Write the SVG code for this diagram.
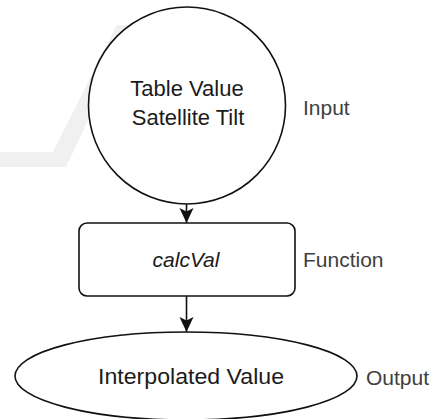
<svg xmlns="http://www.w3.org/2000/svg" width="435" height="419" viewBox="0 0 435 419">
  <style>
    .shape { fill: #ffffff; stroke: #111111; stroke-width: 1.6; }
    .node-text { font-family: "Liberation Sans", Arial, sans-serif; font-size: 22px; fill: #1b1b1b; text-anchor: middle; }
    .label { font-family: "Liberation Sans", Arial, sans-serif; font-size: 21px; fill: #404040; }
    .conn { stroke: #111111; stroke-width: 1.6; fill: none; marker-end: url(#ah); }
    .wm { fill: #f0f0f0; }
  </style>
  <defs>
    <marker id="ah" markerUnits="userSpaceOnUse" markerWidth="15" markerHeight="16" refX="15" refY="7" orient="auto">
      <path d="M0,0 L15,7 L0,14 L3.5,7 Z" fill="#111111"/>
    </marker>
  </defs>
  <rect x="0" y="0" width="435" height="419" fill="#ffffff"/>
  <g id="watermark">
    <path class="wm" d="M117,25 L133,25 L66,167 L0,167 L0,152 L53,152 Z"/>
  </g>
  <g id="connectors">
    <line class="conn" x1="186.5" y1="204" x2="186.5" y2="223"/>
    <line class="conn" x1="186.5" y1="296" x2="186.5" y2="332"/>
  </g>
  <g id="input">
    <circle class="shape" cx="187" cy="105.5" r="98.5"/>
    <text class="node-text" x="187" y="96">Table Value</text>
    <text class="node-text" x="188" y="125">Satellite Tilt</text>
    <text class="label" x="303" y="115">Input</text>
  </g>
  <g id="function">
    <rect class="shape" x="79" y="223" width="216" height="73" rx="8" ry="8"/>
    <text class="node-text" x="186" y="267" font-style="italic" style="font-size:21px">calcVal</text>
    <text class="label" x="303" y="267">Function</text>
  </g>
  <g id="output">
    <ellipse class="shape" cx="186" cy="376" rx="171" ry="44"/>
    <text class="node-text" x="191" y="384" textLength="186" lengthAdjust="spacingAndGlyphs">Interpolated Value</text>
    <text class="label" x="366" y="385">Output</text>
  </g>
</svg>
